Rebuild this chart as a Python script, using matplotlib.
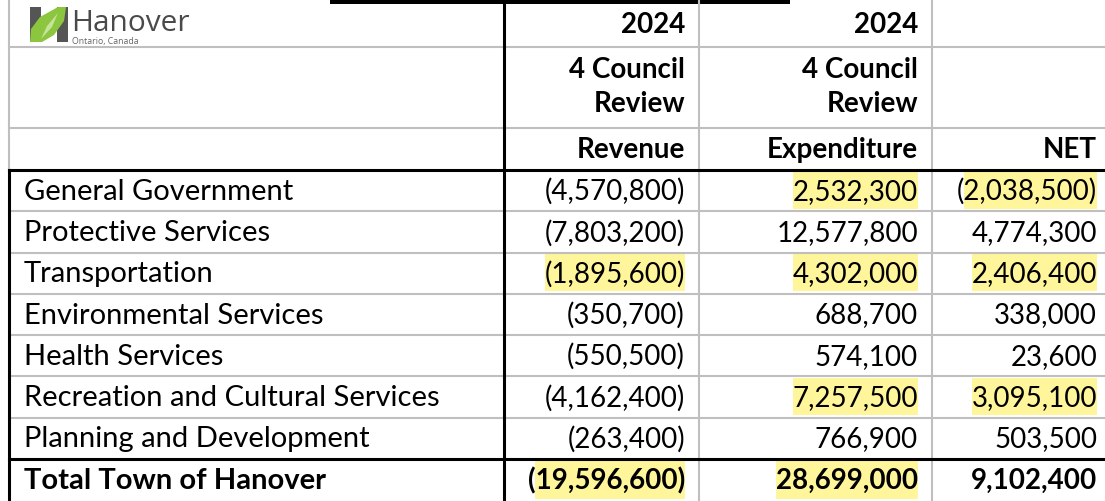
import matplotlib
matplotlib.use("Agg")
import matplotlib.pyplot as plt
import matplotlib.patches as mpatches

categories = ["General Government", "Protective Services", "Transportation",
              "Environmental Services", "Health Services",
              "Recreation and Cultural Services", "Planning and Development"]
revenue = [-4570800, -7803200, -1895600, -350700, -550500, -4162400, -263400]
expenditure = [2532300, 12577800, 4302000, 688700, 574100, 7257500, 766900]
net = [-2038500, 4774300, 2406400, 338000, 23600, 3095100, 503500]
total_label = "Total Town of Hanover"
totals = [-19596600, 28699000, 9102400]

header_year = ["2024", "2024", ""]
header_stage = ["4 Council\nReview", "4 Council\nReview", ""]
header_kind = ["Revenue", "Expenditure", "NET"]

# highlighted cells: (row, column, skip opening paren)
highlights = [(0, 1, False), (0, 2, True), (2, 0, False), (2, 1, False), (2, 2, False),
              (5, 1, False), (5, 2, False), (7, 0, True), (7, 1, False)]

# ---- layout (pixels) ----
W, H = 1105, 502
FONT = "Lato"
FS = 20
LABEL_FS = 21
col_lines = [9, 503, 699, 932]
col_right = [685, 918, 1097]
header_lines = [48, 129, 171]
row_h = (460 - 171) / 7
row_top = [171 + i * row_h for i in range(8)]
GRID = "#bfbfbf"
HL = "#fff59a"


def fmt(v):
    return f"({abs(v):,})" if v < 0 else f"{v:,}"


fig = plt.figure(figsize=(W / 100, H / 100), dpi=100)
ax = fig.add_axes([0, 0, 1, 1])
ax.set_xlim(0, W)
ax.set_ylim(H, 0)
ax.axis("off")

# title underline cut off at the top
ax.add_patch(mpatches.Rectangle((330, 0), 460, 5, color="black", lw=0))

# logo
ax.add_patch(mpatches.Rectangle((30, 8), 11, 35, color="#555555", lw=0))
ax.add_patch(mpatches.Rectangle((57, 8), 11, 35, color="#555555", lw=0))
ax.add_patch(mpatches.Polygon([(30, 43), (31, 30), (40, 18), (58, 8), (66, 8),
                               (64, 22), (54, 36), (42, 43)], color="#8cc63f", lw=0))
ax.add_patch(mpatches.Polygon([(41, 40), (47, 27), (58, 14), (52, 28)],
                              color="#c5e39a", lw=0))
ax.text(71, 31, "Hanover", fontsize=21.5, color="#4a4a4a", family="Open Sans",
        va="baseline", ha="left")
ax.text(72, 44, "Ontario, Canada", fontsize=6.3, color="#666666", family="Open Sans",
        va="baseline", ha="left")

# header grid lines (grey)
ax.plot([9, W], [header_lines[0]] * 2, color=GRID, lw=1.5)
ax.plot([9, W], [header_lines[1]] * 2, color=GRID, lw=1.5)
ax.plot([9, 9], [0, 171], color=GRID, lw=1.5)
for x in col_lines[2:]:
    ax.plot([x, x], [0, H], color=GRID, lw=1.5)

# data row grid lines
for y in row_top[1:7]:
    ax.plot([9, W], [y, y], color=GRID, lw=1.5)

# black frame lines
ax.plot([9, W], [171, 171], color="black", lw=2.2)
ax.plot([9, W], [460, 460], color="black", lw=2.2)
ax.plot([8.5, 8.5], [171, H], color="black", lw=2.2)
ax.plot([503.5, 503.5], [0, H], color="black", lw=2.2)

# header text
for j in range(3):
    ax.text(col_right[j], 25, header_year[j], fontsize=FS, family=FONT,
            fontweight="bold", ha="right", va="center")
    ax.text(col_right[j], 87, header_stage[j], fontsize=FS, family=FONT,
            fontweight="bold", ha="right", va="center", linespacing=1.4)
    ax.text(col_right[j], 150, header_kind[j], fontsize=FS, family=FONT,
            fontweight="bold", ha="right", va="center")

# body rows
rows = [(categories[i], [revenue[i], expenditure[i], net[i]], "normal")
        for i in range(len(categories))]
rows.append((total_label, totals, "bold"))

fig.canvas.draw()
renderer = fig.canvas.get_renderer()
inv = ax.transData.inverted()

cell_texts = {}
for i, (label, vals, weight) in enumerate(rows):
    yc = row_top[i] + row_h / 2 if i < 7 else (460 + H) / 2
    ax.text(24, yc, label, fontsize=LABEL_FS, family=FONT, fontweight=weight,
            ha="left", va="center")
    for j, v in enumerate(vals):
        t = ax.text(col_right[j], yc, fmt(v), fontsize=FS, family=FONT,
                    fontweight=weight, ha="right", va="center", zorder=3)
        cell_texts[(i, j)] = t

# yellow highlights behind the highlighted numbers
fig.canvas.draw()
for i, j, skip in highlights:
    t = cell_texts[(i, j)]
    bb = t.get_window_extent(renderer)
    x0 = inv.transform((bb.x0, bb.y0))[0]
    x1 = inv.transform((bb.x1, bb.y0))[0]
    if skip:
        p = ax.text(0, 0, "(", fontsize=FS, family=FONT,
                    fontweight=t.get_fontweight())
        pw = p.get_window_extent(renderer).width
        p.remove()
        x0 += pw
    top = row_top[i] + 1.5
    bottom = (row_top[i + 1] if i < 7 else H) - 2.5
    ax.add_patch(mpatches.Rectangle((x0, top), x1 - x0, bottom - top,
                                    color=HL, lw=0, zorder=1))

fig.savefig("out.png", dpi=100)
